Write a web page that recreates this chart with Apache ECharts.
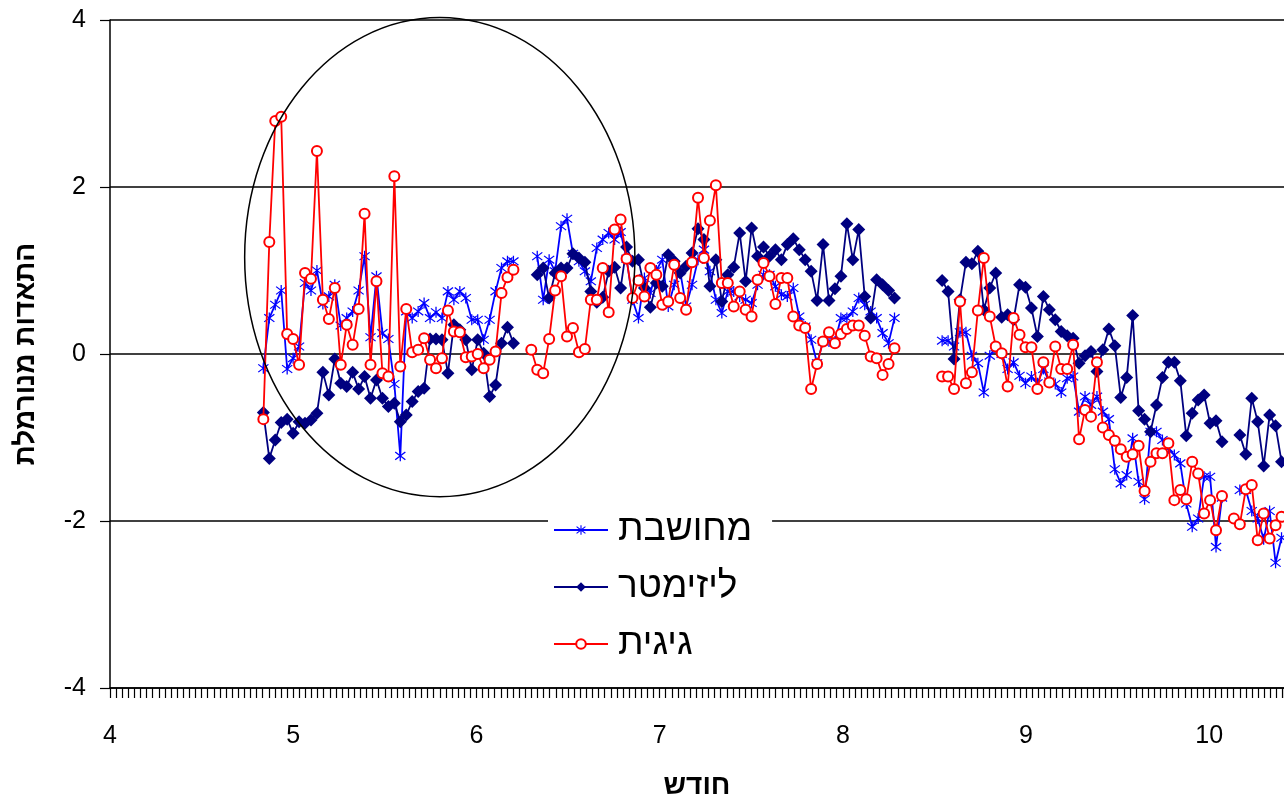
<!DOCTYPE html>
<html>
<head>
<meta charset="utf-8">
<title>התאדות מנורמלת</title>
<script src="https://cdn.jsdelivr.net/npm/echarts@6/dist/echarts.min.js"></script>
<style>
html, body { margin: 0; padding: 0; background: #fff; }
#chart { width: 1284px; height: 800px; }
</style>
</head>
<body>
<div id="chart"></div>
<script>
// daily points, x measured in months (4 = April ... 10 = October)
var dayStart = 4.837;
var dayStep = 0.0325;

var monthTicks = [4, 5, 6, 7, 8, 9, 10];

// מחושבת
var computed = [
	-0.17, 0.43, 0.59, 0.76, -0.18, -0.05, 0.09, 0.85, 0.76, 1.00,
	0.60, 0.69, 0.83, 0.34, 0.43, 0.51, 0.76, 1.17, 0.20, 0.93,
	0.25, 0.18, -0.36, -1.22, 0.51, 0.43, 0.51, 0.61, 0.43, 0.50,
	0.43, 0.75, 0.65, 0.75, 0.67, 0.41, 0.41, 0.17, 0.41, 0.75,
	1.03, 1.11, 1.11, null, null, null, 1.17, 0.65, 1.13, 0.99,
	1.53, 1.62, 1.20, 1.11, 0.99, 0.87, 1.27, 1.37, 1.45, 1.37,
	1.46, 1.14, 0.65, 0.43, 0.91, 0.73, 1.00, 1.13, 0.57, 0.83,
	0.99, 0.57, 0.83, 1.13, 1.25, 0.99, 0.65, 0.49, 0.75, 0.75,
	0.69, 0.65, 0.61, 0.83, 0.95, 0.95, 0.81, 0.71, 0.69, 0.79,
	0.45, 0.33, 0.17, -0.11, 0.15, 0.15, 0.15, 0.43, 0.43, 0.51,
	0.67, 0.59, 0.51, 0.43, 0.25, 0.13, 0.43, null, null, null,
	null, null, null, null, 0.16, 0.16, 0.09, 0.26, 0.26, -0.02,
	-0.11, -0.46, -0.02, 0.08, 0.00, -0.18, -0.10, -0.26, -0.35, -0.27,
	-0.35, -0.18, -0.33, -0.36, -0.46, -0.29, -0.27, -0.69, -0.51, -0.61,
	-0.51, -0.69, -0.78, -1.38, -1.55, -1.45, -1.01, -1.53, -1.74, -0.93,
	-0.93, -1.03, -1.13, -1.21, -1.31, -1.79, -2.07, -1.97, -1.47, -1.47,
	-2.31, -1.72, null, null, -1.63, -1.63, -1.88, -1.97, -2.22, -1.88,
	-2.50, -2.20
];

// ליזימטר
var lysimeter = [
	-0.70, -1.25, -1.03, -0.82, -0.78, -0.95, -0.81, -0.83, -0.79, -0.71,
	-0.22, -0.49, -0.06, -0.35, -0.39, -0.22, -0.42, -0.27, -0.53, -0.31,
	-0.53, -0.63, -0.59, -0.81, -0.73, -0.57, -0.45, -0.41, 0.18, 0.18,
	0.17, -0.23, 0.35, 0.29, 0.17, -0.19, 0.17, 0.01, -0.51, -0.37,
	0.13, 0.32, 0.13, null, null, null, 0.95, 1.03, 0.67, 0.97,
	1.03, 1.03, 1.20, 1.15, 1.10, 0.75, 0.62, 0.68, 0.99, 1.04,
	0.79, 1.28, 1.11, 1.13, 0.79, 0.56, 0.85, 0.81, 1.19, 1.11,
	0.97, 1.05, 1.21, 1.50, 1.37, 0.81, 1.13, 0.63, 0.95, 1.04,
	1.45, 0.87, 1.51, 1.17, 1.28, 1.17, 1.25, 1.13, 1.31, 1.38,
	1.25, 1.13, 0.99, 0.64, 1.31, 0.64, 0.78, 0.93, 1.56, 1.13,
	1.49, 0.69, 0.43, 0.89, 0.83, 0.76, 0.67, null, null, null,
	null, null, null, null, 0.88, 0.75, -0.06, 0.65, 1.10, 1.08,
	1.23, 0.53, 0.79, 0.97, 0.44, 0.47, 0.41, 0.83, 0.80, 0.55,
	0.21, 0.69, 0.53, 0.41, 0.27, 0.22, 0.19, -0.11, -0.02, 0.03,
	-0.21, 0.05, 0.30, 0.10, -0.52, -0.28, 0.46, -0.68, -0.78, -0.93,
	-0.61, -0.28, -0.10, -0.10, -0.32, -0.98, -0.71, -0.55, -0.49, -0.83,
	-0.80, -1.05, null, null, -0.97, -1.20, -0.53, -0.81, -1.34, -0.73,
	-0.86, -1.29
];

// גיגית
var pan = [
	-0.78, 1.34, 2.79, 2.84, 0.24, 0.18, -0.13, 0.97, 0.90, 2.43,
	0.65, 0.42, 0.79, -0.13, 0.35, 0.11, 0.54, 1.68, -0.13, 0.87,
	-0.23, -0.27, 2.13, -0.15, 0.54, 0.02, 0.05, 0.19, -0.07, -0.17,
	-0.05, 0.52, 0.27, 0.26, -0.04, -0.03, 0.00, -0.17, -0.07, 0.03,
	0.73, 0.92, 1.01, null, null, 0.05, -0.19, -0.23, 0.18, 0.76,
	0.93, 0.21, 0.31, 0.02, 0.06, 0.65, 0.65, 1.03, 0.50, 1.49,
	1.61, 1.14, 0.67, 0.88, 0.69, 1.03, 0.95, 0.59, 0.63, 1.07,
	0.67, 0.53, 1.10, 1.87, 1.15, 1.60, 2.02, 0.85, 0.85, 0.57,
	0.75, 0.53, 0.45, 0.89, 1.09, 0.93, 0.60, 0.91, 0.91, 0.45,
	0.34, 0.31, -0.42, -0.12, 0.15, 0.26, 0.13, 0.24, 0.30, 0.34,
	0.34, 0.22, -0.03, -0.05, -0.25, -0.12, 0.07, null, null, null,
	null, null, null, null, -0.27, -0.27, -0.42, 0.63, -0.35, -0.22,
	0.52, 1.15, 0.45, 0.09, 0.01, -0.39, 0.43, 0.23, 0.08, 0.08,
	-0.42, -0.10, -0.34, 0.09, -0.18, -0.18, 0.11, -1.02, -0.67, -0.75,
	-0.10, -0.88, -0.97, -1.04, -1.14, -1.23, -1.20, -1.10, -1.64, -1.29,
	-1.19, -1.19, -1.07, -1.75, -1.63, -1.74, -1.29, -1.43, -1.91, -1.75,
	-2.11, -1.70, null, -1.97, -2.04, -1.62, -1.57, -2.23, -1.91, -2.21,
	-2.05, -1.95
];

// the hand drawn ellipse, in data units
var ellipseCenter = [5.80, 1.16];
var ellipseRadius = [1.065, 2.87];

var asterisk = 'path://M9 0L11 0L11 20L9 20Z' +
	'M2.66 2.25L18.66 16.25L17.34 17.75L1.34 3.75Z' +
	'M17.34 2.25L18.66 3.75L2.66 17.75L1.34 16.25Z';

var font = '"Liberation Sans", Arial, "DejaVu Sans", sans-serif';

function toPoints(values) {
	return values.map(function (v, i) {
		return [dayStart + i * dayStep, v === null ? '-' : v];
	});
}

var myChart = echarts.init(document.getElementById('chart'), null, {renderer: 'canvas'});

var option = {
	animation: false,
	backgroundColor: '#fff',
	grid: {
		left: 110,
		right: 0,
		top: 20,
		bottom: 112,
		containLabel: false,
		outerBoundsMode: 'none'
	},
	legend: {
		orient: 'vertical',
		left: 548,
		top: 498,
		backgroundColor: '#fff',
		padding: [13, 20, 8, 5],
		itemGap: 19,
		itemWidth: 54,
		itemHeight: 12,
		data: ['מחושבת', 'ליזימטר', 'גיגית'],
		textStyle: {
			color: '#000',
			fontFamily: font,
			fontSize: 37,
			lineHeight: 38,
			padding: [0, 0, 0, 5]
		}
	},
	xAxis: {
		type: 'value',
		min: 4,
		max: 10.408,
		interval: 1,
		name: 'חודש',
		nameLocation: 'middle',
		nameGap: 84,
		nameTextStyle: {
			color: '#000',
			fontFamily: font,
			fontSize: 28,
			fontWeight: 'bold'
		},
		axisLine: {
			show: true,
			onZero: false,
			lineStyle: {color: '#000', width: 1.5}
		},
		axisTick: {
			show: true,
			inside: false,
			length: 10,
			lineStyle: {color: '#000', width: 1.2}
		},
		minorTick: {
			show: true,
			splitNumber: 30,
			length: 10,
			lineStyle: {color: '#000', width: 1.2}
		},
		splitLine: {show: false},
		axisLabel: {
			margin: 36,
			showMaxLabel: false,
			color: '#000',
			fontFamily: font,
			fontSize: 25,
			formatter: function (v) {
				return monthTicks.indexOf(v) > -1 ? String(v) : '';
			}
		}
	},
	yAxis: {
		type: 'value',
		min: -4,
		max: 4,
		interval: 2,
		name: 'התאדות מנורמלת',
		nameLocation: 'middle',
		nameRotate: 90,
		nameGap: 70,
		nameTextStyle: {
			color: '#000',
			fontFamily: font,
			fontSize: 28,
			fontWeight: 'bold'
		},
		axisLine: {
			show: true,
			lineStyle: {color: '#000', width: 1.5}
		},
		axisTick: {
			show: true,
			length: 10,
			lineStyle: {color: '#000', width: 1.2}
		},
		splitLine: {
			show: true,
			lineStyle: {color: '#000', width: 1.5}
		},
		axisLabel: {
			margin: 24,
			color: '#000',
			fontFamily: font,
			fontSize: 25
		}
	},
	series: [
	{
		name: 'מחושבת',
		type: 'line',
		data: toPoints(computed),
		symbol: asterisk,
		symbolSize: 11,
		showAllSymbol: true,
		lineStyle: {color: '#0000FF', width: 1.8},
		itemStyle: {color: '#0000FF'},
		z: 2
	},
	{
		name: 'ליזימטר',
		type: 'line',
		data: toPoints(lysimeter),
		symbol: 'diamond',
		symbolSize: 13,
		showAllSymbol: true,
		lineStyle: {color: '#000080', width: 1.8},
		itemStyle: {color: '#000080'},
		z: 3
	},
	{
		name: 'גיגית',
		type: 'line',
		data: toPoints(pan),
		symbol: 'emptyCircle',
		symbolSize: 10,
		showAllSymbol: true,
		lineStyle: {color: '#FF0000', width: 1.8},
		itemStyle: {color: '#FF0000', borderWidth: 1.6},
		z: 4
	}
	]
};
myChart.setOption(option);

// ellipse drawn from data coordinates
var c = myChart.convertToPixel({gridIndex: 0}, ellipseCenter);
var e = myChart.convertToPixel({gridIndex: 0}, [ellipseCenter[0] + ellipseRadius[0], ellipseCenter[1] + ellipseRadius[1]]);
myChart.setOption({
	graphic: [{
		type: 'ellipse',
		shape: {cx: c[0], cy: c[1], rx: Math.abs(e[0] - c[0]), ry: Math.abs(c[1] - e[1])},
		style: {fill: 'none', stroke: '#000', lineWidth: 1.5},
		silent: true,
		z: 5
	}]
});
</script>
</body>
</html>
